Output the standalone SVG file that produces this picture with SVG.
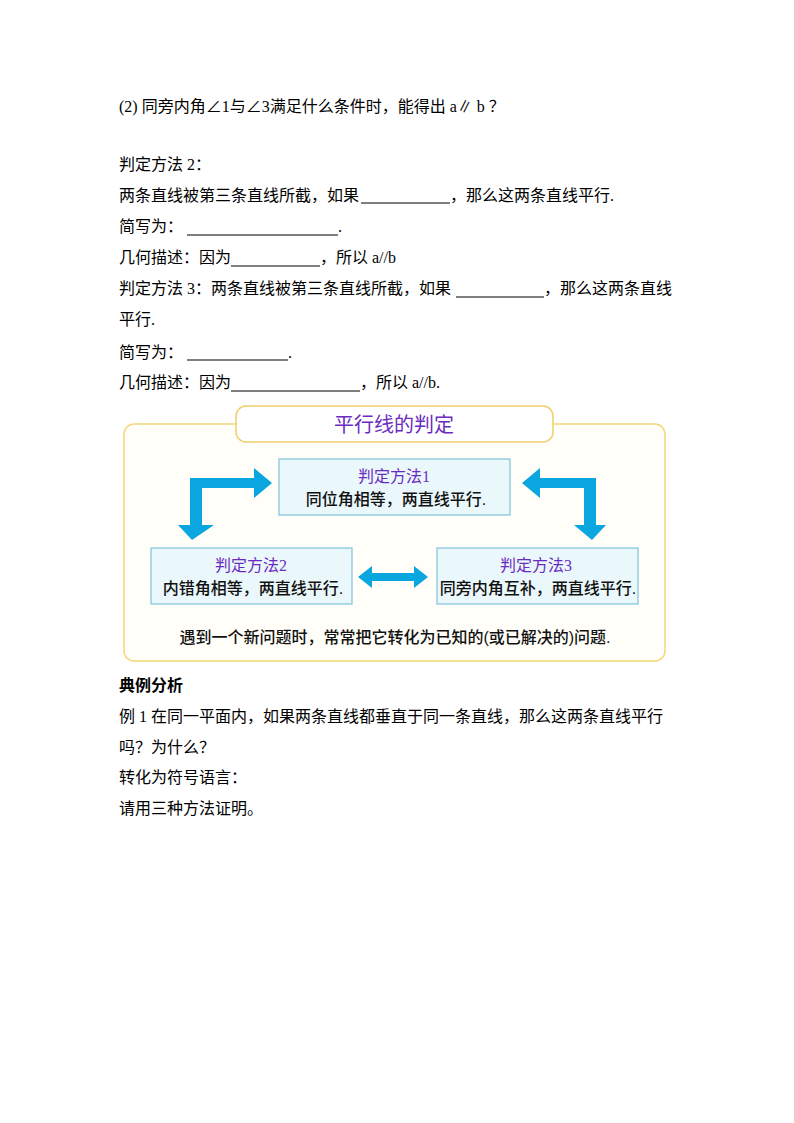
<svg xmlns="http://www.w3.org/2000/svg" width="794" height="1123" viewBox="0 0 794 1123">
<style>
.t{font-family:"Liberation Serif","Noto Sans CJK SC",serif;font-size:16px;fill:#000}
.u{stroke:#000;stroke-width:1}
.b{fill:#eaf7fb;stroke:#7cc4dc;stroke-width:1.2}
.h{font-family:"Liberation Serif","Noto Sans CJK SC",serif;font-size:16px;fill:#6a2cc0;text-anchor:middle}
.c{font-family:"Liberation Sans","Noto Sans CJK SC",sans-serif;font-size:16px;fill:#111;text-anchor:middle;font-weight:500}
.a{fill:#0aa6e0}
</style>
<rect width="794" height="1123" fill="#fff"/>
<g id="text">
<text class="t" x="119" y="112">(2)  同旁内角∠1与∠3满足什么条件时，能得出 a∥ b ？</text>
<text class="t" x="119" y="170">判定方法 2：</text>
<text class="t" x="119" y="201">两条直线被第三条直线所截，如果</text><line class="u" x1="361" y1="203" x2="450" y2="203"/><text class="t" x="450" y="201">，那么这两条直线平行.</text>
<text class="t" x="119" y="232">简写为：</text><line class="u" x1="187" y1="235" x2="338" y2="235"/><text class="t" x="338" y="232">.</text>
<text class="t" x="119" y="263">几何描述：因为</text><line class="u" x1="231" y1="266" x2="320" y2="266"/><text class="t" x="320" y="263">，所以 a//b</text>
<text class="t" x="119" y="294">判定方法 3：两条直线被第三条直线所截，如果</text><line class="u" x1="456" y1="297" x2="544" y2="297"/><text class="t" x="544" y="294">，那么这两条直线</text>
<text class="t" x="119" y="325">平行.</text>
<text class="t" x="119" y="358">简写为：</text><line class="u" x1="187" y1="360" x2="288" y2="360"/><text class="t" x="288" y="358">.</text>
<text class="t" x="119" y="388">几何描述：因为</text><line class="u" x1="231" y1="391" x2="360" y2="391"/><text class="t" x="360" y="388">，所以  a//b.</text>
<text class="t" x="119" y="691" font-weight="bold">典例分析</text>
<text class="t" x="119" y="722">例 1    在同一平面内，如果两条直线都垂直于同一条直线，那么这两条直线平行</text>
<text class="t" x="119" y="753">吗？为什么？</text>
<text class="t" x="119" y="783">转化为符号语言：</text>
<text class="t" x="119" y="814">请用三种方法证明。</text>
</g>
<g id="frame">
<rect x="124" y="424" width="541" height="237" rx="10" fill="#fffef8" stroke="#f5d77a" stroke-width="1.5"/>
<rect x="236" y="406" width="317" height="36" rx="10" fill="#fff" stroke="#f0cf6a" stroke-width="1.5"/>
<text x="394" y="432" font-family="Liberation Sans,Noto Sans CJK SC,sans-serif" font-size="20" fill="#6a2cc0" text-anchor="middle">平行线的判定</text>
</g>
<g id="node1"><rect class="b" x="279" y="459" width="231" height="56"/><text class="h" x="394" y="482">判定方法1</text><text class="c" x="396" y="505">同位角相等，两直线平行.</text></g>
<g id="node2"><rect class="b" x="151" y="548" width="201" height="56"/><text class="h" x="251" y="571">判定方法2</text><text class="c" x="253" y="594">内错角相等，两直线平行.</text></g>
<g id="node3"><rect class="b" x="437" y="548" width="201" height="56"/><text class="h" x="536" y="571">判定方法3</text><text class="c" x="538" y="594">同旁内角互补，两直线平行.</text></g>
<g id="connectors">
<path class="a" d="M192,540 L178,525 L190,525 L190,478 L254,478 L254,468 L272,483 L254,498 L254,488 L202,488 L202,525 L214,525 Z"/>
<path class="a" d="M592,540 L606,525 L596,525 L596,478 L540,478 L540,468 L522,483 L540,498 L540,488 L584,488 L584,525 L574,525 Z"/>
<path class="a" d="M358,577 L372,566 L372,573 L414,573 L414,566 L428,577 L414,588 L414,581 L372,581 L372,588 Z"/>
</g>
<text x="395" y="643" font-family="Liberation Sans,Noto Sans CJK SC,sans-serif" font-size="16" font-weight="500" fill="#111" text-anchor="middle">遇到一个新问题时，常常把它转化为已知的(或已解决的)问题.</text>
</svg>
